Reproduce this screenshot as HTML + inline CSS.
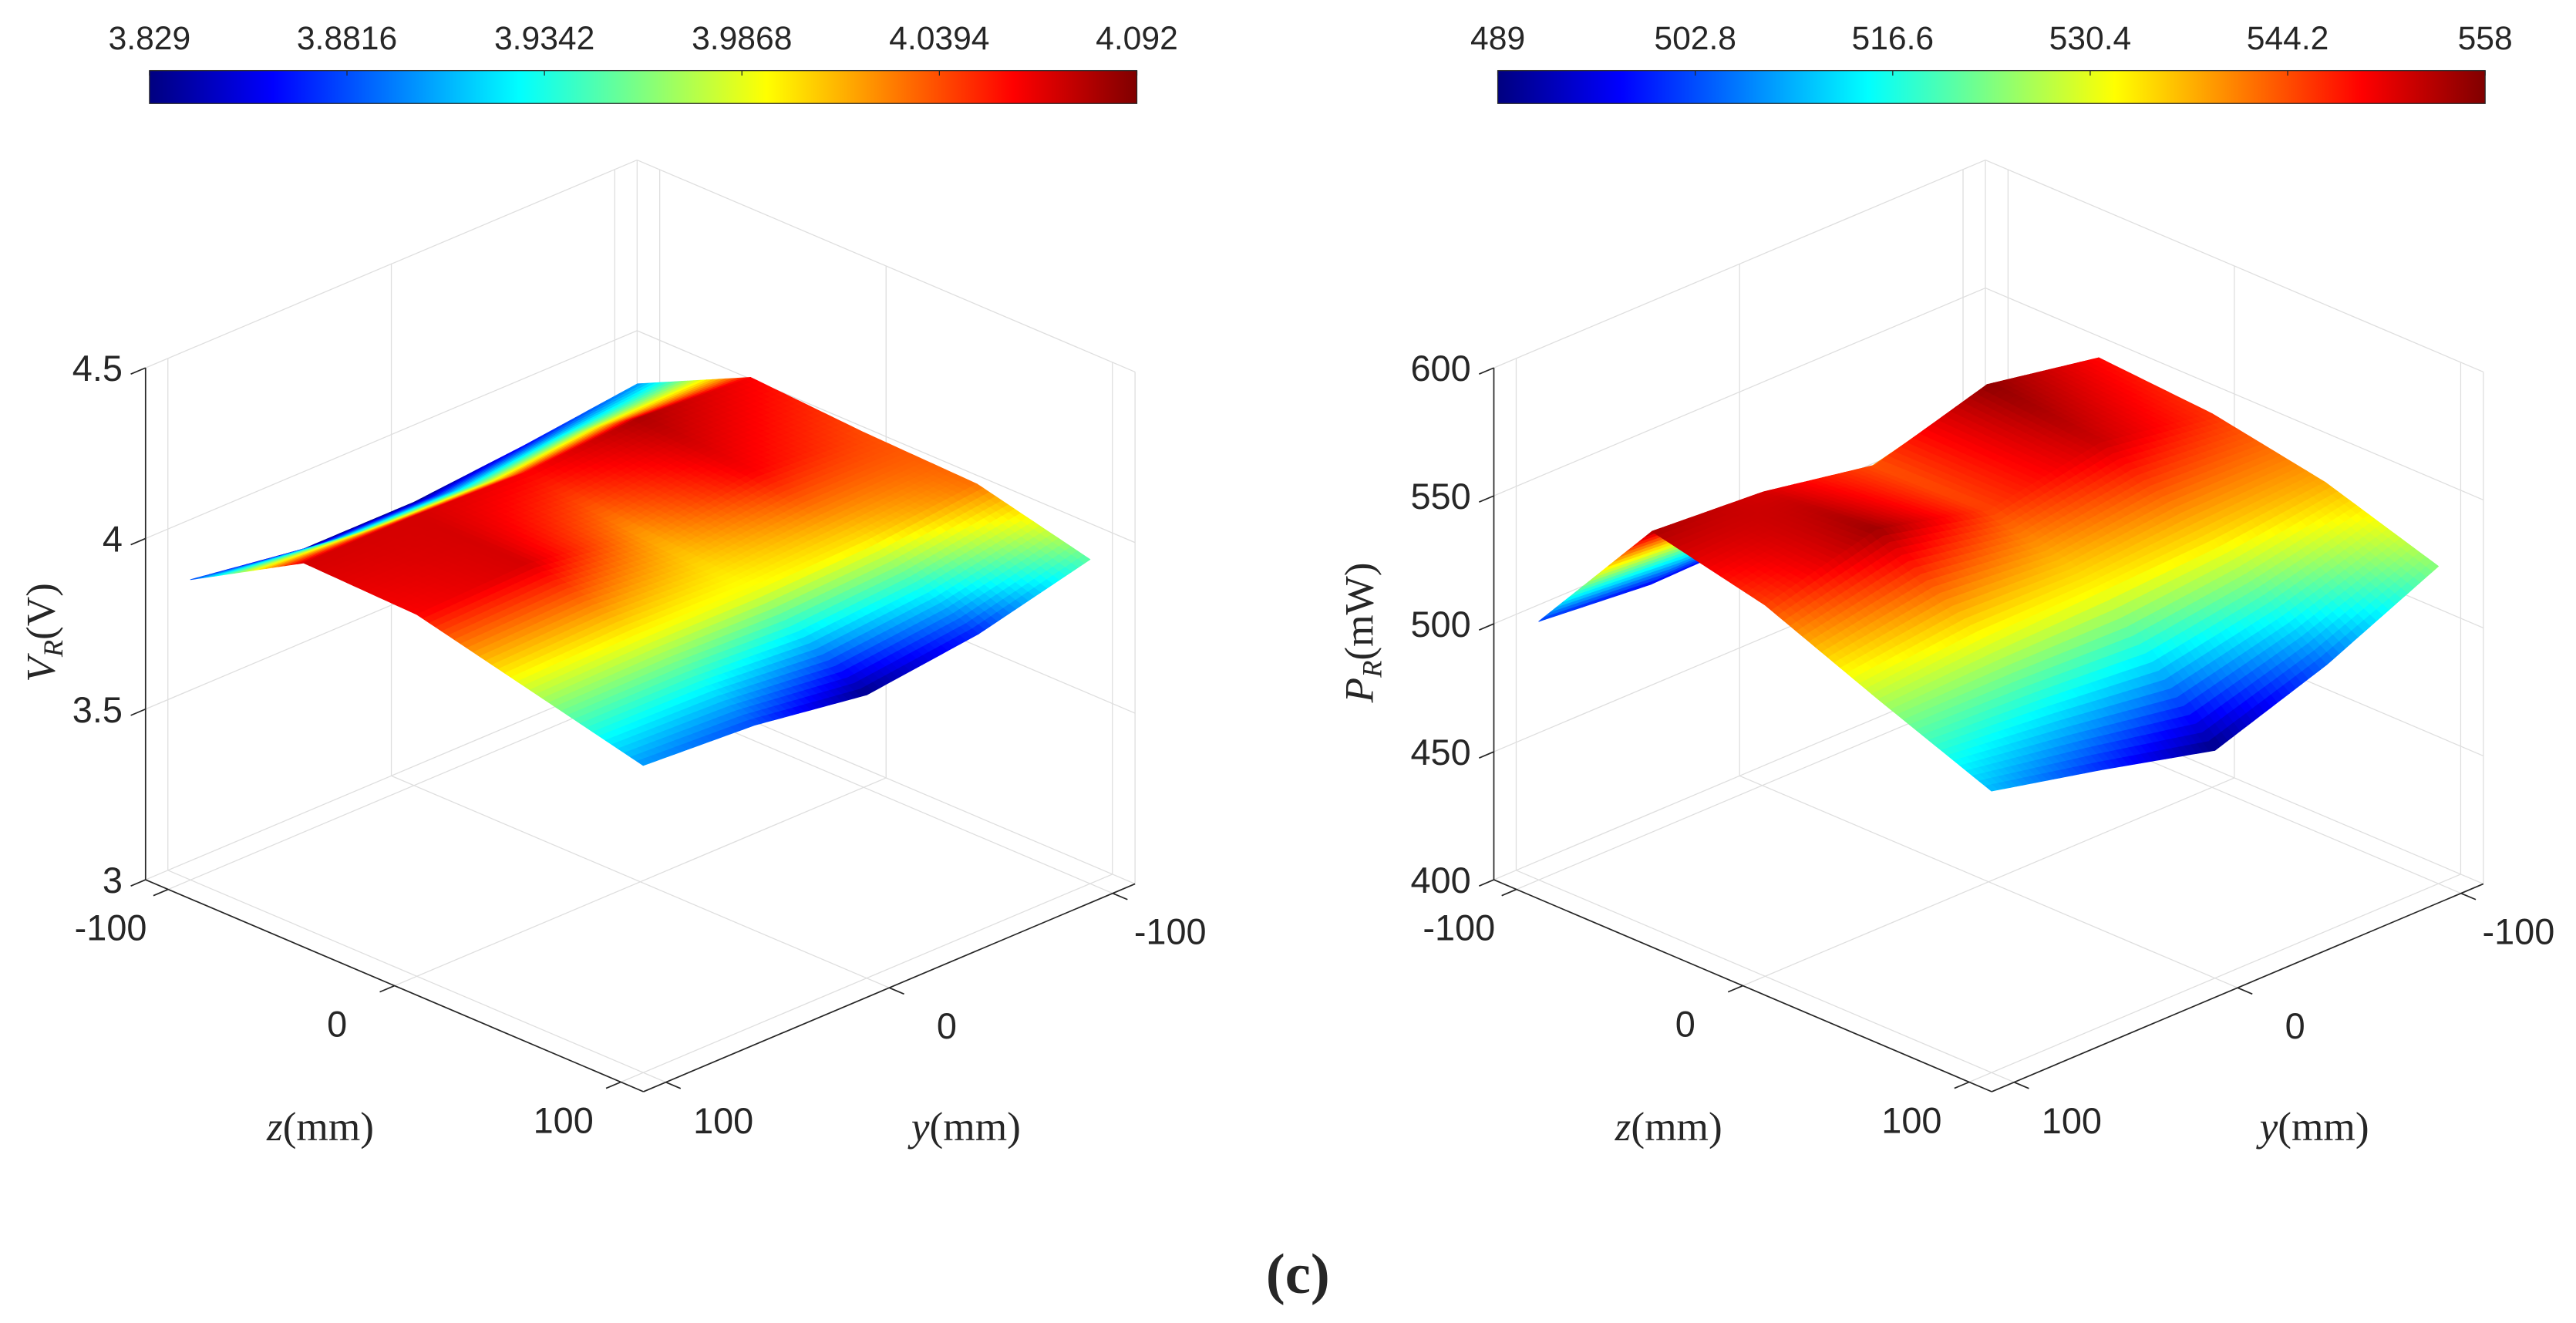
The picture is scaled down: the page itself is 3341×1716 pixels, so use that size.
<!DOCTYPE html>
<html><head><meta charset="utf-8">
<style>
html,body{margin:0;padding:0;background:#fff;}
svg{display:block;}
text{font-family:"Liberation Sans",sans-serif;fill:#262626;}
.ser{font-family:"Liberation Serif",serif;}
</style></head>
<body>
<svg id="fig" width="3341" height="1716" viewBox="0 0 1568 805.3" preserveAspectRatio="none" xmlns="http://www.w3.org/2000/svg">
<defs>
<linearGradient id="jet" x1="0" x2="1" y1="0" y2="0">
<stop offset="0" stop-color="#000080"/><stop offset="0.125" stop-color="#0000ff"/>
<stop offset="0.375" stop-color="#00ffff"/><stop offset="0.625" stop-color="#ffff00"/>
<stop offset="0.875" stop-color="#ff0000"/><stop offset="1" stop-color="#800000"/>
</linearGradient>
</defs>
<g id="left-plot"></g>
<g id="right-plot"></g>
<text x="790" y="787" text-anchor="middle" class="ser" font-size="35" font-weight="bold">(c)</text>
</svg>
<script>
// ----- data -----
const zVals = [-100, -50, 0, 50, 100];
const yVals = [-100, -50, 0, 50, 100];
// rows: z, cols: y
const vRow0 = [3.90, 3.86, 3.83, 3.83, 3.88];
const vRow1 = [4.06, 4.08, 4.06, 4.07, 4.07];
const vRow2 = [4.04, 4.06, 4.02, 4.07, 4.06];
const vRow3 = [4.03, 4.00, 3.99, 3.99, 3.98];
const vRow4 = [3.95, 3.87, 3.83, 3.88, 3.90];
const pRow0 = [505, 500, 498, 497, 501];
const pRow1 = [549, 557, 544, 552, 555];
const pRow2 = [546, 553, 545, 556, 545];
const pRow3 = [538, 534, 532, 530, 527];
const pRow4 = [524, 504, 489, 500, 510];
const vTicks = [3, 3.5, 4, 4.5];
const vTickLabels = ["3", "3.5", "4", "4.5"];
const pTicks = [400, 450, 500, 550, 600];
const pTickLabels = ["400", "450", "500", "550", "600"];
const hTicks = [-100, 0, 100];
const hTickLabels = ["-100", "0", "100"];
const vCbarLabels = ["3.829", "3.8816", "3.9342", "3.9868", "4.0394", "4.092"];
const pCbarLabels = ["489", "502.8", "516.6", "530.4", "544.2", "558"];

const NS = "http://www.w3.org/2000/svg";
function mk(tag, attrs, parent) {
  const e = document.createElementNS(NS, tag);
  for (const k in attrs) e.setAttribute(k, attrs[k]);
  parent.appendChild(e);
  return e;
}
function clamp(x){return Math.max(0,Math.min(1,x));}
function jet(t){
  t = clamp(t);
  const r = clamp(Math.min(4*t-1.5, -4*t+4.5));
  const g = clamp(Math.min(4*t-0.5, -4*t+3.5));
  const b = clamp(Math.min(4*t+0.5, -4*t+2.5));
  return "rgb("+Math.round(r*255)+","+Math.round(g*255)+","+Math.round(b*255)+")";
}

function drawPlot(g, dx, rows, vmin, vmax, cmin, cmax, ticks, tickLabels, cbarLabels, yLabelHtml) {
  const LIM = 110, H = 311.6;
  const F = [391.7+dx, 664.5], L = [88.6+dx, 535.5], R = [690.9+dx, 538];
  function P(z, y, v) {
    const a = (LIM - z) / (2*LIM), b = (LIM - y) / (2*LIM);
    return [F[0] + a*(L[0]-F[0]) + b*(R[0]-F[0]),
            F[1] + a*(L[1]-F[1]) + b*(R[1]-F[1]) - (v - vmin)/(vmax - vmin)*H];
  }
  function line(p, q, col, w, name) {
    const e = mk("line", {x1:p[0].toFixed(2), y1:p[1].toFixed(2), x2:q[0].toFixed(2), y2:q[1].toFixed(2), stroke:col, "stroke-width":w}, g);
    
    
    return e;
  }
  const gc = "#dedede";
  for (const t of ticks) {
    line(P(-LIM, LIM, t), P(-LIM, -LIM, t), gc, 0.6, "grid-line-h");
    line(P(-LIM, -LIM, t), P(LIM, -LIM, t), gc, 0.6, "grid-line-h");
  }
  for (const t of hTicks) {
    line(P(-LIM, t, vmin), P(-LIM, t, vmax), gc, 0.6, "grid-line-v");
    line(P(t, -LIM, vmin), P(t, -LIM, vmax), gc, 0.6, "grid-line-v");
    line(P(t, LIM, vmin), P(t, -LIM, vmin), gc, 0.6, "floor-grid-line");
    line(P(LIM, t, vmin), P(-LIM, t, vmin), gc, 0.6, "floor-grid-line");
  }
  line(P(-LIM, -LIM, vmin), P(-LIM, -LIM, vmax), gc, 0.6, "grid-line-v");
  line(P(LIM, -LIM, vmin), P(LIM, -LIM, vmax), gc, 0.6, "grid-line-v");
  line(P(-LIM, LIM, vmin), P(-LIM, LIM, vmax), gc, 0.6, "grid-line-v");

  const N = 18, polys = [];
  function val(fi, fj) {
    const i = Math.min(3, Math.floor(fi)), j = Math.min(3, Math.floor(fj));
    const u = fi - i, w = fj - j;
    return rows[i][j]*(1-u)*(1-w) + rows[i+1][j]*u*(1-w) + rows[i][j+1]*(1-u)*w + rows[i+1][j+1]*u*w;
  }
  function coord(arr, f){ const i=Math.min(arr.length-2,Math.floor(f)); return arr[i]+(arr[i+1]-arr[i])*(f-i); }
  for (let ci = 0; ci < 4; ci++) for (let cj = 0; cj < 4; cj++)
    for (let si = 0; si < N; si++) for (let sj = 0; sj < N; sj++) {
      const f0 = ci + si/N, f1 = ci + (si+1)/N, g0 = cj + sj/N, g1 = cj + (sj+1)/N;
      const pts = [[f0,g0],[f1,g0],[f1,g1],[f0,g1]].map(([fi,fj]) => P(coord(zVals,fi), coord(yVals,fj), val(fi,fj)));
      const vc = val((f0+f1)/2, (g0+g1)/2);
      const zc = coord(zVals,(f0+f1)/2), yc = coord(yVals,(g0+g1)/2);
      polys.push({pts, c: jet((vc - cmin)/(cmax - cmin)), d: zc + yc});
    }
  polys.sort((p, q) => p.d - q.d);
  const sg = mk("g", {}, g);
  
  
  for (const p of polys) {
    const e = mk("polygon", {points: p.pts.map(q => q[0].toFixed(2)+","+q[1].toFixed(2)).join(" "), fill: p.c, stroke: p.c, "stroke-width": 0.45, "stroke-linejoin":"round"}, sg);
    
    
  }

  const ac = "#262626";
  line(P(-LIM, LIM, vmin), P(-LIM, LIM, vmax), ac, 0.8, "vertical-axis-line");
  line(P(-LIM, LIM, vmin), P(LIM, LIM, vmin), ac, 0.8, "z-axis-line");
  line(P(LIM, LIM, vmin), P(LIM, -LIM, vmin), ac, 0.8, "y-axis-line");
  ticks.forEach((t, k) => {
    const p = P(-LIM, LIM, t);
    line(p, [p[0]-9, p[1]+3.8], ac, 0.8, "vertical-tick");
    const tx = mk("text", {x: p[0]-14, y: p[1]+8, "text-anchor":"end", "font-size": 22}, g);
    tx.textContent = tickLabels[k];
    
    
  });
  hTicks.forEach((t, k) => {
    const p = P(t, LIM, vmin);
    line(p, [p[0]-9, p[1]+3.8], ac, 0.8, "z-tick");
    const tx = mk("text", {x: p[0]-35, y: p[1]+31, "text-anchor":"middle", "font-size": 22}, g);
    tx.textContent = hTickLabels[k];
    
    
    const q = P(LIM, t, vmin);
    line(q, [q[0]+9, q[1]+3.8], ac, 0.8, "y-tick");
    const ty = mk("text", {x: q[0]+35, y: q[1]+31, "text-anchor":"middle", "font-size": 22}, g);
    ty.textContent = hTickLabels[k];
    
    
  });
  const zl = mk("text", {x: 195+dx, y: 694, "text-anchor":"middle", "font-size": 25, "class":"ser"}, g);
  zl.innerHTML = '<tspan font-style="italic">z</tspan>(mm)';
  
  
  const yl = mk("text", {x: 588+dx, y: 694, "text-anchor":"middle", "font-size": 25, "class":"ser"}, g);
  yl.innerHTML = '<tspan font-style="italic">y</tspan>(mm)';
  
  
  const vl = mk("text", {x: 0, y: 0, "text-anchor":"middle", "font-size": 25, "class":"ser", transform: "translate("+(dx===0?33:dx+15)+",385) rotate(-90)"}, g);
  vl.innerHTML = yLabelHtml;
  
  

  const cx0 = 91 + dx, cx1 = 692 + dx;
  const cb = mk("rect", {x: cx0, y: 43, width: cx1 - cx0, height: 20, fill: "url(#jet)", stroke: "#262626", "stroke-width": 0.6}, g);
  
  
  cbarLabels.forEach((s, k) => {
    const x = cx0 + k*(cx1 - cx0)/5;
    line([x, 43], [x, 46], ac, 0.6, "colorbar-tick");
    const tx = mk("text", {x: x, y: 30, "text-anchor":"middle", "font-size": 20}, g);
    tx.textContent = s;
    
    
  });
}

drawPlot(document.getElementById("left-plot"), 0,
  [vRow0, vRow1, vRow2, vRow3, vRow4], 3, 4.5, 3.829, 4.092, vTicks, vTickLabels, vCbarLabels,
  '<tspan font-style="italic">V</tspan><tspan font-style="italic" font-size="17" dy="5">R</tspan><tspan dy="-5">(V)</tspan>');
drawPlot(document.getElementById("right-plot"), 820.7,
  [pRow0, pRow1, pRow2, pRow3, pRow4], 400, 600, 489, 558, pTicks, pTickLabels, pCbarLabels,
  '<tspan font-style="italic">P</tspan><tspan font-style="italic" font-size="17" dy="5">R</tspan><tspan dy="-5">(mW)</tspan>');
</script>
</body></html>
